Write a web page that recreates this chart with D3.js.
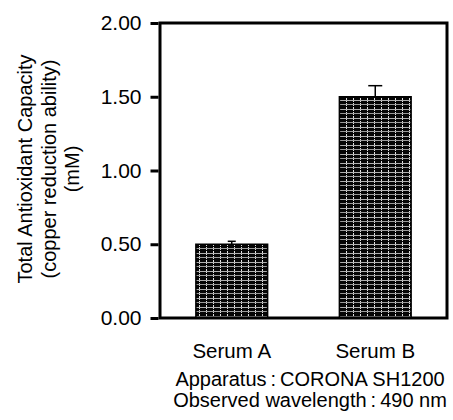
<!DOCTYPE html>
<html>
<head>
<meta charset="utf-8">
<script src="https://cdn.jsdelivr.net/npm/d3@7"></script>
<style>
  html, body { margin: 0; padding: 0; background: #fff; }
  svg { display: block; font-family: "Liberation Sans", Arial, sans-serif; }
</style>
</head>
<body>
<svg id="chart" width="453" height="420"></svg>
<script>
// ---- data ----
const categories = ["Serum A", "Serum B"];
const values = [0.50, 1.50];
const errors = [0.02, 0.075];
const yTicks = [0, 0.5, 1.0, 1.5, 2.0];
const yLabelLines = ["Total Antioxidant Capacity", "(copper reduction ability)", "(mM)"];
const noteLines = ["Apparatus\u2009:\u2009CORONA SH1200", "Observed wavelength\u2009:\u2009490 nm"];

const svg = d3.select("#chart");
const margin = { left: 160, right: 6, top: 23, bottom: 102 };
const W = 453, H = 420;
const x0 = margin.left, x1 = W - margin.right, y0 = H - margin.bottom, y1 = margin.top;

const x = d3.scaleBand().domain(categories).range([x0, x1]).paddingInner(0.5).paddingOuter(0.25);
const y = d3.scaleLinear().domain([0, 2]).range([y0, y1]);

// pattern
const defs = svg.append("defs");
const pat = defs.append("pattern").attr("id", "hatch").attr("patternUnits", "userSpaceOnUse")
  .attr("width", 7).attr("height", 9).attr("x", 0).attr("y", 0);
pat.append("rect").attr("width", 7).attr("height", 9).attr("fill", "#050505");
pat.append("line").attr("x1", 0).attr("x2", 7).attr("y1", 1.5).attr("y2", 1.5).attr("stroke", "#b0b0b0").attr("stroke-width", 1);
pat.append("line").attr("x1", 0).attr("x2", 7).attr("y1", 5.5).attr("y2", 5.5).attr("stroke", "#9a9a9a").attr("stroke-width", 1);
pat.append("line").attr("x1", 3.5).attr("x2", 3.5).attr("y1", 0).attr("y2", 9).attr("stroke", "#e0e0e0").attr("stroke-width", 1).attr("stroke-dasharray", "1,1");

// bars
svg.selectAll("rect.bar").data(categories).enter().append("rect")
  .attr("class", "bar")
  .attr("x", d => x(d))
  .attr("width", x.bandwidth())
  .attr("y", (d, i) => y(values[i]))
  .attr("height", (d, i) => y(0) - y(values[i]))
  .attr("fill", "url(#hatch)")
  .attr("stroke", "#000").attr("stroke-width", 1.5);

// error bars (upper)
categories.forEach((c, i) => {
  const cx = x(c) + x.bandwidth() / 2;
  const cw = i === 0 ? 8 : 14;
  svg.append("line").attr("x1", cx).attr("x2", cx).attr("y1", y(values[i])).attr("y2", y(values[i] + errors[i]))
    .attr("stroke", "#000").attr("stroke-width", 1.5);
  svg.append("line").attr("x1", cx - cw / 2).attr("x2", cx + cw / 2)
    .attr("y1", y(values[i] + errors[i])).attr("y2", y(values[i] + errors[i]))
    .attr("stroke", "#000").attr("stroke-width", 1.5);
});

// frame
svg.append("rect").attr("x", x0).attr("y", y1).attr("width", x1 - x0).attr("height", y0 - y1)
  .attr("fill", "none").attr("stroke", "#000").attr("stroke-width", 3);

// y axis
const yAxis = d3.axisLeft(y).tickValues(yTicks).tickFormat(d3.format(".2f")).tickSize(8).tickPadding(9);
const ga = svg.append("g").attr("transform", `translate(${x0 - 1.5},0)`).call(yAxis);
ga.select(".domain").remove();
ga.selectAll(".tick line").attr("stroke", "#000").attr("stroke-width", 3);
ga.selectAll(".tick text").attr("font-size", 21).attr("fill", "#000").attr("font-family", "Liberation Sans, Arial, sans-serif");

// x labels
svg.selectAll("text.xl").data(categories).enter().append("text")
  .attr("class", "xl")
  .attr("x", d => x(d) + x.bandwidth() / 2)
  .attr("y", 358)
  .attr("text-anchor", "middle").attr("font-size", 20.5).attr("fill", "#000")
  .text(d => d);

// y label
const yl = svg.append("text").attr("transform", `translate(0,169) rotate(-90)`)
  .attr("text-anchor", "middle").attr("font-size", 20).attr("fill", "#000");
yLabelLines.forEach((t, i) => {
  yl.append("tspan").attr("x", 0).attr("y", 32 + i * 23.5).text(t);
});

// notes
noteLines.forEach((t, i) => {
  svg.append("text").attr("x", 310).attr("y", 386 + i * 21)
    .attr("text-anchor", "middle").attr("font-size", 20).attr("fill", "#000").text(t);
});
</script>
</body>
</html>
